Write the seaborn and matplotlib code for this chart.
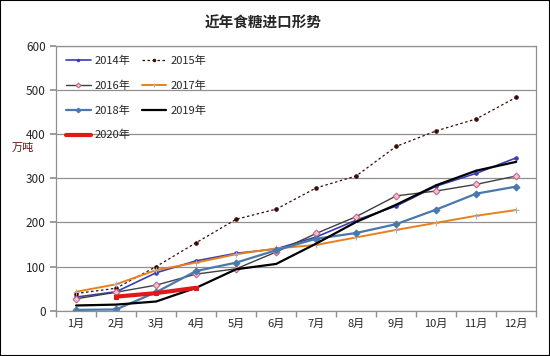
import numpy as np
import pandas as pd
import matplotlib
matplotlib.use("Agg")
import matplotlib.pyplot as plt
import seaborn as sns

months = ["1月", "2月", "3月", "4月", "5月", "6月", "7月", "8月", "9月", "10月", "11月", "12月"]

y2014 = [31, 43, 86, 113, 130, 140, 167, 205, 237, 282, 311, 346]
y2015 = [39, 51, 100, 154, 207, 230, 278, 305, 372, 407, 434, 483]
y2016 = [27, 42, 58, 83, 95, 133, 175, 213, 260, 271, 286, 305]
y2017 = [43, 60, 92, 109, 128, 141, 149, 166, 183, 199, 215, 228]
y2018 = [2, 3, 42, 90, 109, 137, 163, 176, 196, 229, 265, 281]
y2019 = [12, 14, 21, 52, 94, 106, 152, 201, 240, 284, 317, 337]
y2020 = [None, 32, 40, 52]

sns.set_theme(style="white")
plt.rcParams["font.family"] = ["Noto Sans CJK SC", "DejaVu Sans"]

fig = plt.figure(figsize=(5.5, 3.56), dpi=100)
ax = fig.add_axes([0.102, 0.127, 0.873, 0.745])

x = np.arange(12)
styles = {
    "2014年": dict(data=y2014, color="#3c3cb4", lw=1.2, marker="o", ms=2.5, mfc="#3c3cb4", mec="#3c3cb4", ls="-"),
    "2015年": dict(data=y2015, color="#3a0a0a", lw=0.9, marker="o", ms=2.5, mfc="#3a0a0a", mec="#3a0a0a", ls=(0, (2, 2))),
    "2016年": dict(data=y2016, color="#404040", lw=1.0, marker="D", ms=3.5, mfc="#f0c0d0", mec="#c86080", ls="-"),
    "2017年": dict(data=y2017, color="#e8801c", lw=1.4, marker="+", ms=5, mfc="#b0b0b0", mec="#b0b0b0", ls="-"),
    "2018年": dict(data=y2018, color="#4a78ac", lw=1.6, marker="D", ms=3.5, mfc="#4a78ac", mec="#4a78ac", ls="-"),
    "2019年": dict(data=y2019, color="#000000", lw=1.6, marker=None, ms=0, mfc="k", mec="k", ls="-"),
    "2020年": dict(data=y2020, color="#e01818", lw=3.0, marker="s", ms=3, mfc="#e01818", mec="#e01818", ls="-"),
}

for label, s in styles.items():
    vals = pd.Series(s["data"], dtype=float)
    sns.lineplot(x=x[:len(vals)], y=vals, ax=ax, color=s["color"], linewidth=s["lw"],
                 marker=s["marker"], markersize=s["ms"], markerfacecolor=s["mfc"],
                 markeredgecolor=s["mec"], linestyle=s["ls"], label=label)

ax.set_xlim(-0.5, 11.5)
ax.set_ylim(0, 600)
ax.set_yticks(range(0, 601, 100))
ax.yaxis.grid(True, color="#909090", linewidth=0.9)
ax.set_xticks(x)
ax.set_xticklabels(months, fontsize=8)
ax.set_xticks(np.arange(-0.5, 12, 1), minor=True)
ax.tick_params(axis="x", which="major", length=0, pad=6)
ax.tick_params(axis="x", which="minor", length=4, color="#909090", direction="out", bottom=True)
ax.tick_params(axis="y", labelsize=8.5, length=4, color="#909090", left=True, direction="out")
for side in ["left", "bottom", "right", "top"]:
    ax.spines[side].set_color("#909090")
    ax.spines[side].set_linewidth(0.9)
ax.set_xlabel("")
ax.set_ylabel("")

fig.text(0.022, 0.585, "万吨", fontsize=8, color="#6a1010", ha="left", va="center")
fig.text(0.478, 0.935, "近年食糖进口形势", fontsize=10.5, fontweight="bold", ha="center", va="center")

# row-wise order for a 2-column legend
handles, labels = ax.get_legend_handles_labels()
order = [0, 2, 4, 6, 1, 3, 5]
leg = ax.legend([handles[i] for i in order], [labels[i] for i in order],
                loc="upper left", ncol=2, frameon=False, fontsize=8, handlelength=2.2,
                handletextpad=0.4, columnspacing=1.0, labelspacing=1.3,
                bbox_to_anchor=(0.0, 1.0), borderpad=0.4, markerscale=0.7)

fig.patches.append(plt.Rectangle((0, 0), 1, 1, transform=fig.transFigure, fill=False,
                                 edgecolor="black", linewidth=1.5))

fig.savefig("out.png", dpi=100)
